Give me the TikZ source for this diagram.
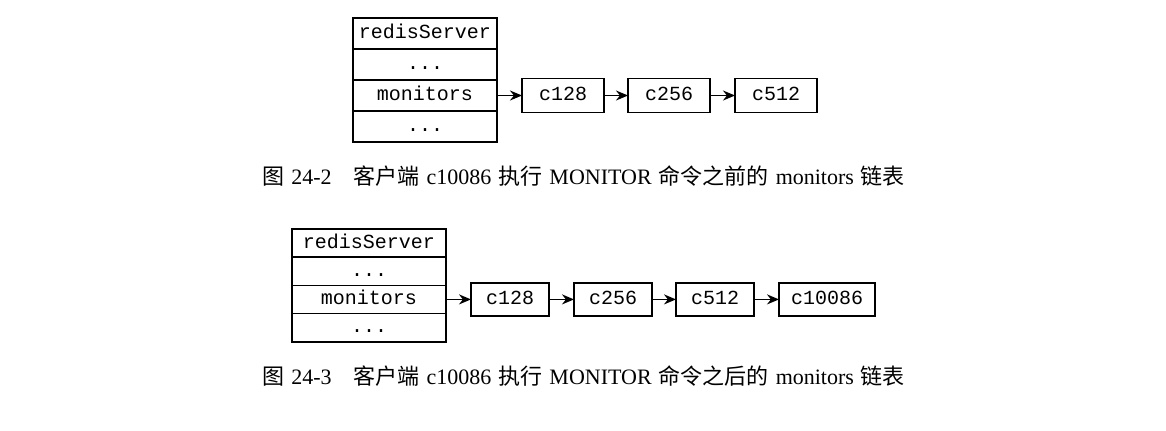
\documentclass[tikz,border=0pt]{standalone}
\usepackage{fontspec}
\setmainfont{Liberation Serif}
\setmonofont{Liberation Mono}
\newfontfamily\cjk{Noto Sans CJK SC}
\usetikzlibrary{positioning,arrows.meta}
\newcommand{\zh}[1]{{\cjk #1}}

\begin{document}
\begin{tikzpicture}[x=0.5pt,y=-0.5pt,font=\ttfamily\fontsize{10}{12}\selectfont,
  field/.style={draw,line width=0.8pt,minimum width=72pt,minimum height=15.5pt,text height=7pt,text depth=2pt,inner sep=0pt,outer sep=0pt},
  client/.style={draw,line width=0.8pt,minimum width=41pt,minimum height=17pt,text height=7pt,text depth=2pt,inner xsep=6pt,inner ysep=0pt,outer sep=0pt},
  ptr/.style={line width=0.8pt,-{Stealth[length=6pt,width=5pt]}},
  caption/.style={anchor=west,inner sep=0pt,font=\rmfamily\fontsize{11}{13}\selectfont,
    execute at begin node={\spaceskip=3.5pt\relax}}]
\useasboundingbox (0,0) rectangle (1166,430);

\node[field] (srvA) at (425,33.5) {redisServer};
\node[field,below=0pt of srvA] (dotsA) {...};
\node[field,below=0pt of dotsA] (monA) {monitors};
\node[field,below=0pt of monA] (restA) {...};
\node[client,right=12.5pt of monA] (a128) {c128};
\node[client,right=12pt of a128] (a256) {c256};
\node[client,right=12.5pt of a256] (a512) {c512};
\draw[ptr] (monA) -- (a128);
\draw[ptr] (a128) -- (a256);
\draw[ptr] (a256) -- (a512);
\node[caption] (capA) at (262,176) {\zh{图} 24-2\hspace{11pt}\zh{客户端} c10086 \zh{执行} MONITOR \zh{命令之前的} monitors \zh{链表}};

\begin{scope}[field/.append style={minimum width=77pt,minimum height=14.1pt},
  client/.append style={minimum width=39pt,minimum height=16.5pt}]
\node[field] (srvB) at (369,243) {redisServer};
\node[field,below=0pt of srvB] (dotsB) {...};
\node[field,below=0pt of dotsB] (monB) {monitors};
\node[field,below=0pt of monB] (restB) {...};
\node[client,right=12.5pt of monB] (b128) {c128};
\node[client,right=12.5pt of b128] (b256) {c256};
\node[client,right=12pt of b256] (b512) {c512};
\node[client,right=12.5pt of b512] (b10086) {c10086};
\draw[ptr] (monB) -- (b128);
\draw[ptr] (b128) -- (b256);
\draw[ptr] (b256) -- (b512);
\draw[ptr] (b512) -- (b10086);
\end{scope}
\node[caption] (capB) at (262,376) {\zh{图} 24-3\hspace{11pt}\zh{客户端} c10086 \zh{执行} MONITOR \zh{命令之后的} monitors \zh{链表}};
\end{tikzpicture}
\end{document}
